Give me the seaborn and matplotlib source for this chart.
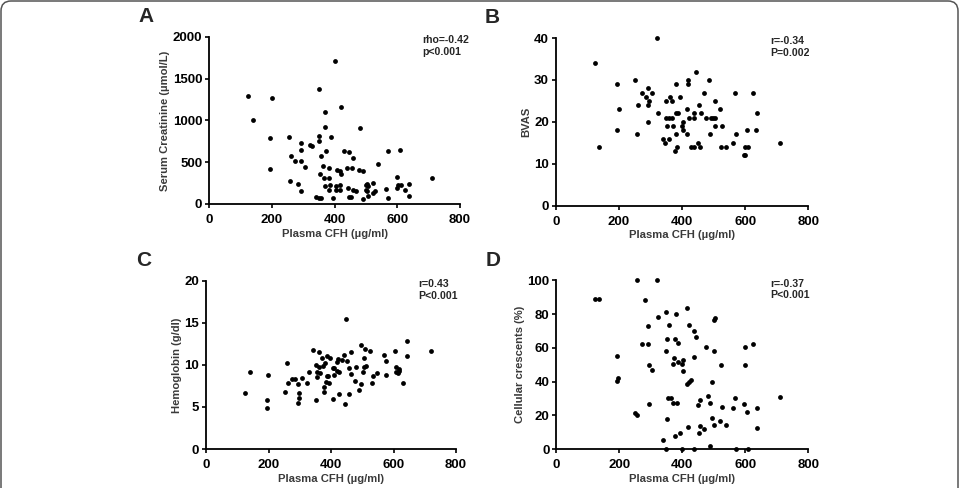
import numpy as np
import pandas as pd
import matplotlib
matplotlib.use("Agg")
import matplotlib.pyplot as plt
from matplotlib.patches import FancyBboxPatch
import seaborn as sns

# ---- data ----
# A: serum creatinine vs plasma CFH
cfh_a = [125, 141, 200, 195, 195, 254, 259, 260, 273, 285, 294, 294, 294, 293, 305, 323, 327,
         351, 351, 351, 353, 358, 362, 370, 371, 373, 389, 366, 369, 381, 382, 382, 387, 342,
         351, 358, 394, 403, 422, 409, 419, 421, 404, 406, 416, 419, 431, 447, 441, 455, 459,
         444, 446, 453, 460, 470, 481, 477, 492, 492, 503, 501, 507, 499, 505, 507, 523, 528,
         523, 540, 563, 569, 569, 598, 601, 598, 608, 611, 624, 637, 637, 711]
creatinine = [1296, 1000, 1268, 788, 424, 804, 276, 576, 512, 236, 736, 652, 520, 152, 444, 704,
              700, 1372, 812, 760, 364, 576, 460, 1104, 924, 636, 800, 312, 220, 436, 312, 172,
              228, 88, 76, 76, 72, 1712, 1160, 412, 400, 364, 220, 168, 232, 168, 632, 620, 432,
              428, 552, 192, 80, 88, 164, 156, 916, 404, 392, 60, 240, 224, 216, 168, 160, 96,
              248, 152, 128, 484, 184, 72, 636, 324, 224, 188, 648, 224, 168, 240, 96, 308]

# B: BVAS vs plasma CFH
cfh_b = [125, 137, 193, 200, 193, 252, 259, 256, 272, 285, 293, 294, 291, 292, 305, 321, 324,
         339, 346, 350, 350, 351, 360, 361, 368, 358, 367, 370, 380, 380, 378, 385, 382, 388,
         394, 400, 404, 403, 416, 417, 420, 418, 422, 429, 439, 439, 439, 445, 450, 454, 458,
         459, 469, 476, 484, 490, 492, 499, 504, 503, 505, 520, 522, 528, 540, 561, 569, 571,
         596, 599, 599, 609, 607, 625, 636, 634, 710]
bvas = [34, 14, 29, 23, 18, 30, 24, 17, 27, 26, 28, 25, 24, 20, 27, 40, 22, 16, 15, 25, 21, 19,
        16, 26, 25, 21, 21, 19, 29, 17, 13, 14, 22, 22, 26, 19, 20, 18, 23, 17, 30, 29, 21, 14,
        14, 22, 21, 32, 15, 24, 14, 22, 27, 21, 30, 17, 21, 21, 25, 21, 19, 23, 14, 19, 14, 15,
        27, 17, 12, 12, 14, 14, 18, 27, 22, 18, 15]

# C: hemoglobin vs plasma CFH
cfh_c = [125, 140, 195, 194, 199, 253, 259, 261, 274, 285, 295, 297, 297, 295, 306, 324, 329,
         342, 351, 355, 354, 353, 360, 362, 366, 371, 373, 376, 378, 380, 383, 387, 386, 390,
         393, 397, 405, 410, 407, 411, 418, 422, 419, 427, 426, 434, 443, 448, 446, 452, 456,
         459, 463, 463, 477, 480, 489, 495, 496, 503, 507, 507, 510, 512, 526, 530, 534, 547,
         570, 575, 576, 605, 607, 607, 613, 619, 619, 631, 642, 643, 719]
hemoglobin = [6.6, 9.2, 5.8, 4.9, 8.8, 6.8, 10.2, 7.8, 8.3, 8.3, 7.7, 6.7, 6.1, 5.5, 8.4, 7.9,
              9.1, 11.8, 10.0, 9.1, 8.5, 5.8, 11.5, 9.8, 9.0, 10.8, 9.9, 7.4, 6.8, 10.2, 8.0,
              11.0, 8.7, 8.7, 7.8, 10.8, 9.6, 9.6, 6.0, 8.8, 10.3, 10.7, 9.3, 9.2, 6.5, 10.6,
              11.2, 15.4, 5.3, 10.5, 9.6, 6.5, 11.5, 8.9, 8.1, 9.7, 7.0, 12.3, 7.7, 9.2, 10.8,
              9.7, 11.9, 9.9, 11.6, 7.9, 8.7, 9.0, 11.2, 10.4, 8.8, 11.6, 9.8, 9.2, 9.0, 9.5,
              9.3, 7.8, 12.8, 11.1, 11.7]

# D: cellular crescents vs plasma CFH
cfh_d = [124, 137, 256, 320, 193, 197, 193, 250, 257, 271, 283, 291, 291, 294, 304, 293, 324,
         349, 357, 350, 349, 350, 340, 347, 356, 365, 369, 373, 369, 376, 379, 385, 387, 383,
         378, 392, 400, 399, 403, 403, 415, 420, 415, 421, 427, 417, 438, 445, 438, 438, 453,
         450, 457, 457, 468, 474, 480, 488, 488, 494, 495, 500, 502, 505, 502, 520, 523, 525,
         539, 560, 568, 569, 598, 598, 597, 606, 610, 624, 636, 636, 711]
crescents = [88.7, 89.1, 100, 100, 55.1, 42.1, 40.1, 21.5, 20.0, 62.1, 88.3, 72.9, 62.1, 50.0,
             46.8, 26.9, 78.1, 81.2, 73.5, 65.0, 58.3, 17.6, 5.3, 0, 30.2, 30.2, 27.3, 53.8,
             50.2, 65.4, 80.2, 63.0, 51.6, 27.1, 7.9, 9.5, 0, 50.2, 52.6, 46.0, 83.4, 73.3, 38.3,
             39.5, 41.1, 13.2, 69.8, 66.6, 54.3, 0, 9.3, 26.3, 29.2, 13.6, 11.9, 60.7, 31.6,
             27.3, 2.0, 39.9, 18.2, 58.1, 76.7, 77.7, 14.4, 16.6, 50.0, 25.1, 14.4, 24.3, 30.0,
             0, 60.5, 50.0, 26.5, 21.7, 0, 62.3, 24.3, 12.5, 30.8]

panel_letters = ["A", "B", "C", "D"]
y_labels = ["Serum Creatinine (\u00b5mol/L)", "BVAS", "Hemoglobin (g/dl)", "Cellular crescents (%)"]
x_label = "Plasma CFH (\u00b5g/ml)"
stats_text = ["rho=-0.42\np<0.001", "r=-0.34\nP=0.002", "r=0.43\nP<0.001", "r=-0.37\nP<0.001"]
y_ticks = [[0, 500, 1000, 1500, 2000], [0, 10, 20, 30, 40], [0, 5, 10, 15, 20],
           [0, 20, 40, 60, 80, 100]]
x_ticks = [0, 200, 400, 600, 800]

sns.set_style("ticks")
plt.rcParams['font.family'] = ['Liberation Sans', 'DejaVu Sans']
plt.rcParams['font.weight'] = 'bold'

fig = plt.figure(figsize=(9.61, 4.88), dpi=100)

# axes boxes measured in pixels from the picture
boxes = [
    [0.2175, 0.5820, 0.2612, 0.3422],
    [0.5783, 0.5785, 0.2629, 0.3436],
    [0.2144, 0.0799, 0.2601, 0.3449],
    [0.5789, 0.0799, 0.2622, 0.3457],
]

panels = [(cfh_a, creatinine), (cfh_b, bvas), (cfh_c, hemoglobin), (cfh_d, crescents)]

for i, (xs, ys) in enumerate(panels):
    ax = fig.add_axes(boxes[i])
    df = pd.DataFrame({"cfh": xs, "val": ys})
    sns.scatterplot(data=df, x="cfh", y="val", ax=ax, color="black", s=12,
                    linewidth=0, clip_on=False, zorder=3)
    ax.set_xlim(0, 800)
    ax.set_ylim(y_ticks[i][0], y_ticks[i][-1])
    ax.set_xticks(x_ticks)
    ax.set_yticks(y_ticks[i])
    sns.despine(ax=ax)
    for sp in ["left", "bottom"]:
        ax.spines[sp].set_linewidth(1.3)
        ax.spines[sp].set_color("black")
    ax.tick_params(axis="both", direction="out", length=2.7, width=1.2,
                   labelsize=9.5, colors="black")
    ax.tick_params(axis="x", pad=4.4)
    ax.tick_params(axis="y", pad=2.2)
    for lab in ax.get_xticklabels() + ax.get_yticklabels():
        lab.set_fontweight("bold")
    ax.set_xlabel(x_label, fontsize=8.1, fontweight="bold", color="#3a3a3a", labelpad=2)
    ax.set_ylabel(y_labels[i], fontsize=8.1, fontweight="bold", color="#3a3a3a", labelpad=2)
    ax.text(0.85, 1.01, stats_text[i], transform=ax.transAxes, ha="left", va="top",
            fontsize=7.6, fontweight="bold", linespacing=1.2)
    ax.text(-0.28, 1.12, panel_letters[i], transform=ax.transAxes, ha="left", va="center",
            fontsize=15, fontweight="bold")

# rounded journal frame around the figure (bottom edge falls outside the image)
frame = FancyBboxPatch((0.01, -0.5), 9.57, 5.37, boxstyle="round,pad=0,rounding_size=0.1",
                       transform=fig.dpi_scale_trans, facecolor="none", edgecolor="#555555",
                       linewidth=1.1, clip_on=False)
fig.add_artist(frame)

fig.savefig("out.png", dpi=100)
